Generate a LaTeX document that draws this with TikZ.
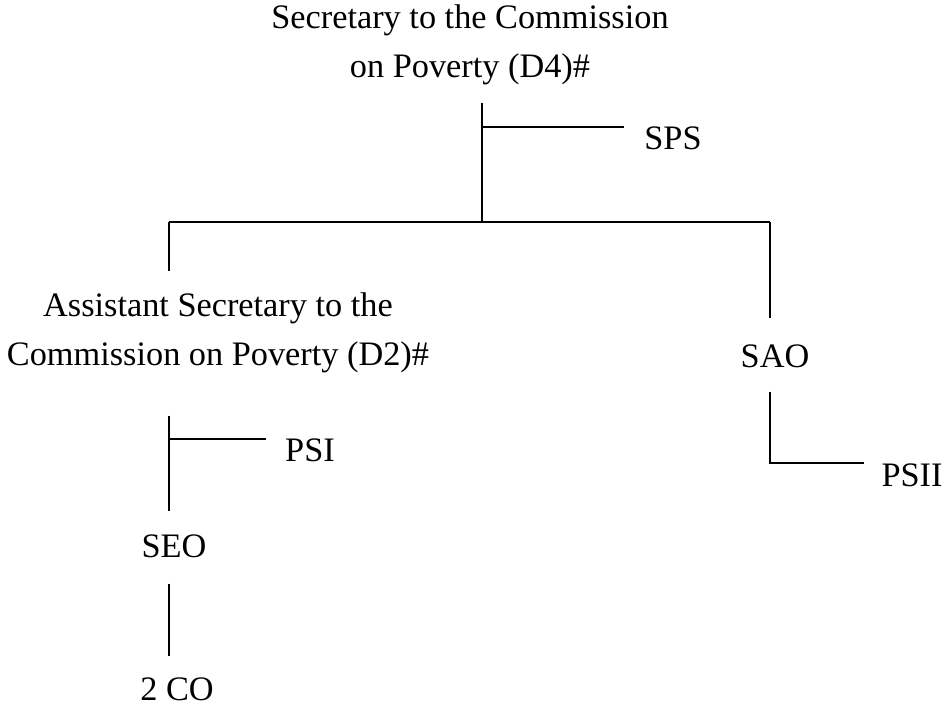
\documentclass[tikz,border=0pt]{standalone}
\usepackage{fontspec}
\setmainfont{Liberation Serif}
\tikzset{
  post/.style={font=\fontsize{34.3}{49}\selectfont, inner sep=0pt, align=center},
  link/.style={line width=1.8pt}
}
\begin{document}
\begin{tikzpicture}[x=1pt, y=-1pt]
  \useasboundingbox (0,0) rectangle (946,706);

  % Top post
  \node[post, anchor=north] (sec) at (470,4.8) {Secretary to the Commission\\on Poverty (D4)\#};
  \node[post, anchor=base] (sps) at (673,150) {SPS};

  % Junction points
  \coordinate (hub) at (482,222);
  \coordinate (hubL) at (169,222);
  \coordinate (hubR) at (770,222);
  \coordinate (spsJ) at (482,127);

  % Second level
  \node[post, anchor=north] (asst) at (218,293) {Assistant Secretary to the\\Commission on Poverty (D2)\#};
  \node[post, anchor=base] (sao) at (775,367) {SAO};

  % Third level
  \node[post, anchor=base] (psi) at (310,461) {PSI};
  \node[post, anchor=base] (seo) at (174,557) {SEO};
  \node[post, anchor=base] (co) at (177,700) {2 CO};
  \node[post, anchor=base] (psii) at (912,486) {PSII};
  \coordinate (psiJ) at (169,439);
  \coordinate (psiiJ) at (770,463);

  % Connectors
  \draw[link, shorten <=18pt] (sec.south -| hub) -- (hub);
  \draw[link, shorten >=20pt] (spsJ) -- (spsJ -| sps.west);
  \draw[link] (hubL) -- (hubR);
  \draw[link, shorten >=22pt] (hubL) -- (asst.north -| hubL);
  \draw[link, shorten >=26pt] (hubR) -- (sao.north -| hubR);
  \draw[link, shorten <=24pt, shorten >=17pt] (sao.south -| hubR) -- (psiiJ) -- (psiiJ -| psii.west);
  \draw[link, shorten <=42pt, shorten >=23pt] (asst.south -| hubL) -- (seo.north -| hubL);
  \draw[link, shorten >=19pt] (psiJ) -- (psiJ -| psi.west);
  \draw[link, shorten <=26pt, shorten >=21pt] (seo.south -| hubL) -- (co.north -| hubL);
\end{tikzpicture}
\end{document}
